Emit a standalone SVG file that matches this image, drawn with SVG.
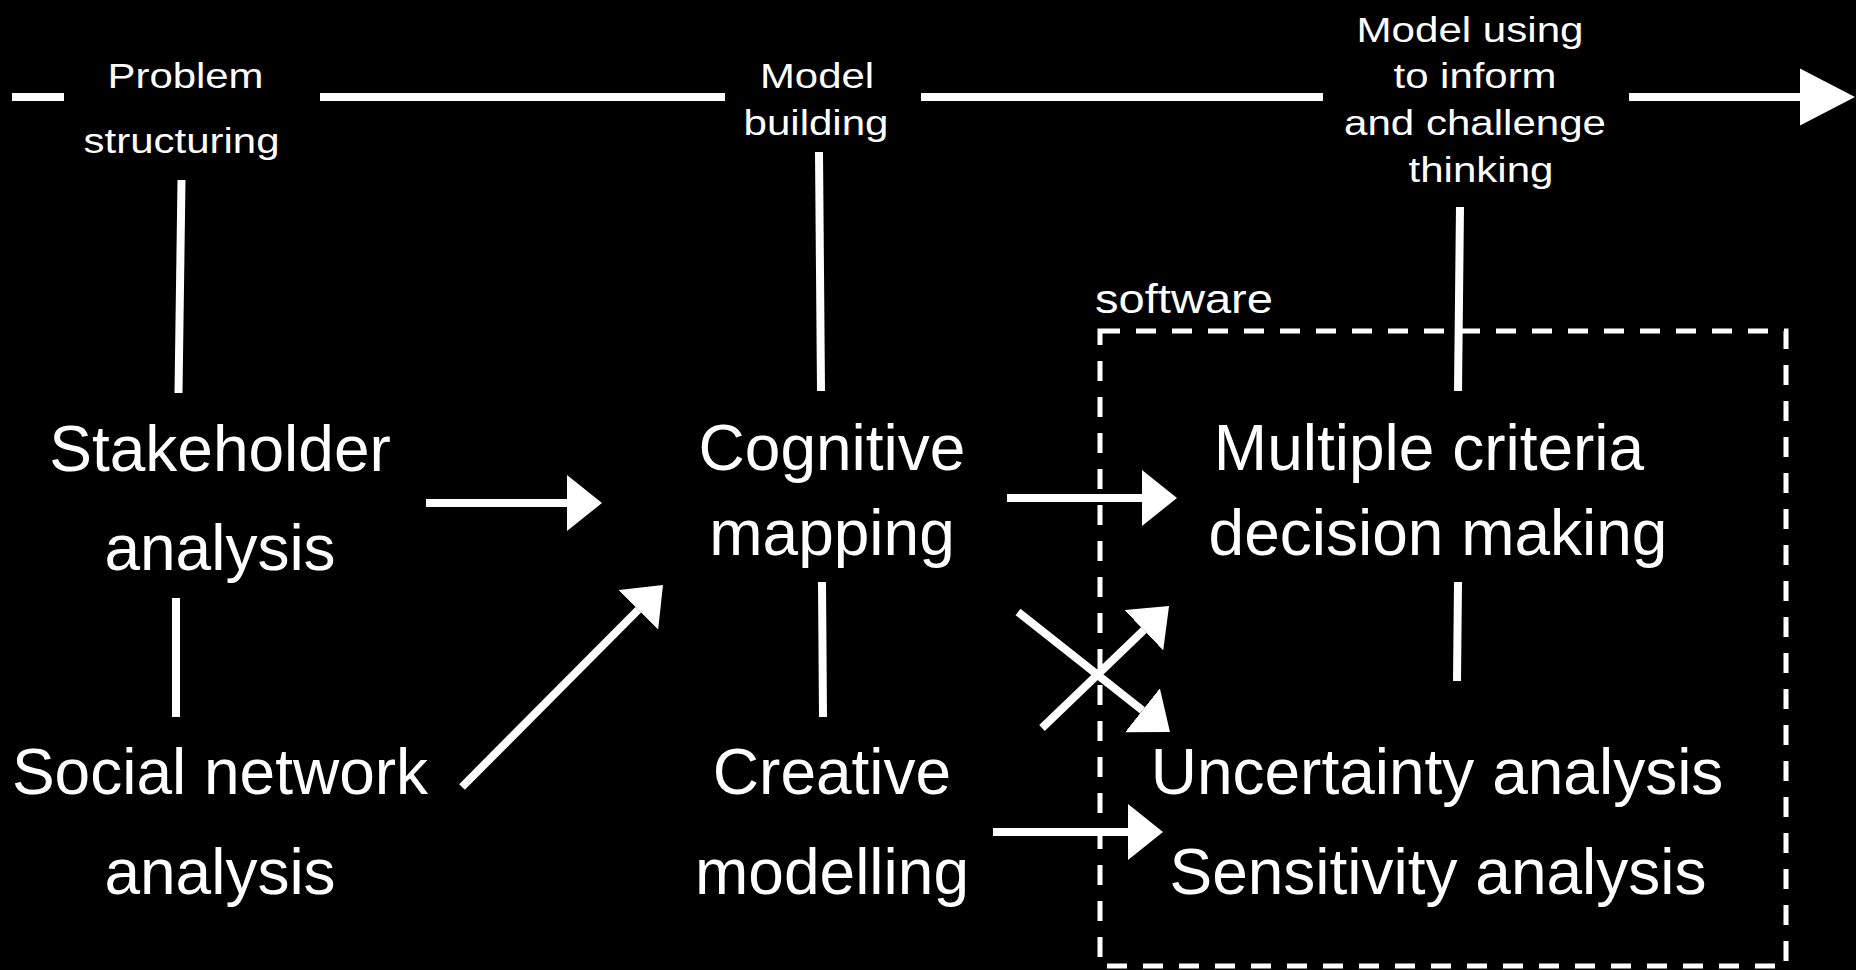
<svg xmlns="http://www.w3.org/2000/svg" width="1856" height="970" viewBox="0 0 1856 970">
<defs>
<style>
.bg{fill:#000}
.lbl{font-family:"Liberation Sans",Arial,sans-serif;font-size:35px;fill:#fff;text-anchor:middle}
.big{font-family:"Liberation Sans",Arial,sans-serif;font-size:64px;fill:#fff;text-anchor:middle}
.ln{stroke:#fff;stroke-width:8;fill:none;stroke-linecap:butt}
.box{stroke:#fff;stroke-width:5;fill:none;stroke-dasharray:20 16}
</style>
<marker id="ah" markerUnits="userSpaceOnUse" viewBox="0 -28 35 56" refX="0" refY="0" markerWidth="35" markerHeight="56" orient="auto">
<path d="M0,-28 L35,0 L0,28 Z" fill="#fff"/>
</marker>
<marker id="ahBig" markerUnits="userSpaceOnUse" viewBox="0 -29 55 58" refX="0" refY="0" markerWidth="55" markerHeight="58" orient="auto">
<path d="M0,-28.5 L55,0 L0,28.5 Z" fill="#fff"/>
</marker>
</defs>
<rect class="bg" x="0" y="0" width="1856" height="970"/>

<g id="phases">
<text class="lbl" x="185.5" y="88" textLength="156" lengthAdjust="spacingAndGlyphs">Problem</text>
<text class="lbl" x="181.5" y="153" textLength="196" lengthAdjust="spacingAndGlyphs">structuring</text>
<text class="lbl" x="817" y="88" textLength="114" lengthAdjust="spacingAndGlyphs">Model</text>
<text class="lbl" x="816" y="135" textLength="145" lengthAdjust="spacingAndGlyphs">building</text>
<text class="lbl" x="1470" y="42" textLength="227" lengthAdjust="spacingAndGlyphs">Model using</text>
<text class="lbl" x="1475" y="88" textLength="163" lengthAdjust="spacingAndGlyphs">to inform</text>
<text class="lbl" x="1475" y="135" textLength="262" lengthAdjust="spacingAndGlyphs">and challenge</text>
<text class="lbl" x="1481" y="182" textLength="145" lengthAdjust="spacingAndGlyphs">thinking</text>
</g>

<g id="software-box">
<rect class="box" x="1100" y="331" width="686" height="635"/>
<text x="1095" y="313" font-family="'Liberation Sans',Arial,sans-serif" font-size="41" fill="#fff" textLength="178" lengthAdjust="spacingAndGlyphs">software</text>
</g>

<g id="stakeholder">
<text class="big" x="220" y="471">Stakeholder</text>
<text class="big" x="220" y="570">analysis</text>
</g>
<g id="social-network">
<text class="big" x="220" y="794">Social network</text>
<text class="big" x="220" y="894">analysis</text>
</g>
<g id="cognitive">
<text class="big" x="832" y="470">Cognitive</text>
<text class="big" x="832" y="555">mapping</text>
</g>
<g id="creative">
<text class="big" x="832" y="794">Creative</text>
<text class="big" x="832" y="894">modelling</text>
</g>
<g id="mcdm">
<text class="big" x="1429" y="470">Multiple criteria</text>
<text class="big" x="1438" y="555">decision making</text>
</g>
<g id="uncertainty">
<text class="big" x="1437" y="794">Uncertainty analysis</text>
<text class="big" x="1438" y="894">Sensitivity analysis</text>
</g>

<g id="connectors">
<line class="ln" x1="12" y1="97" x2="64" y2="97"/>
<line class="ln" x1="320" y1="97" x2="725" y2="97"/>
<line class="ln" x1="921" y1="97" x2="1323" y2="97"/>
<line class="ln" x1="1629" y1="97" x2="1800" y2="97" marker-end="url(#ahBig)"/>

<line class="ln" x1="181.5" y1="180" x2="178.5" y2="393"/>
<line class="ln" x1="819" y1="152" x2="821" y2="391"/>
<line class="ln" x1="1460" y1="207" x2="1458" y2="391"/>

<line class="ln" x1="176" y1="598" x2="176" y2="717"/>
<line class="ln" x1="822" y1="582" x2="823" y2="717"/>
<line class="ln" x1="1458" y1="582" x2="1457" y2="681"/>

<line class="ln" x1="426" y1="503" x2="567" y2="503" marker-end="url(#ah)"/>
<line class="ln" x1="462" y1="787" x2="638.3" y2="609.8" marker-end="url(#ah)"/>
<line class="ln" x1="1007" y1="498" x2="1142" y2="498" marker-end="url(#ah)"/>
<line class="ln" x1="1018" y1="612" x2="1142.5" y2="710.3" marker-end="url(#ah)"/>
<line class="ln" x1="1042" y1="728" x2="1143.8" y2="630.2" marker-end="url(#ah)"/>
<line class="ln" x1="993" y1="832" x2="1128" y2="832" marker-end="url(#ah)"/>
</g>
</svg>
